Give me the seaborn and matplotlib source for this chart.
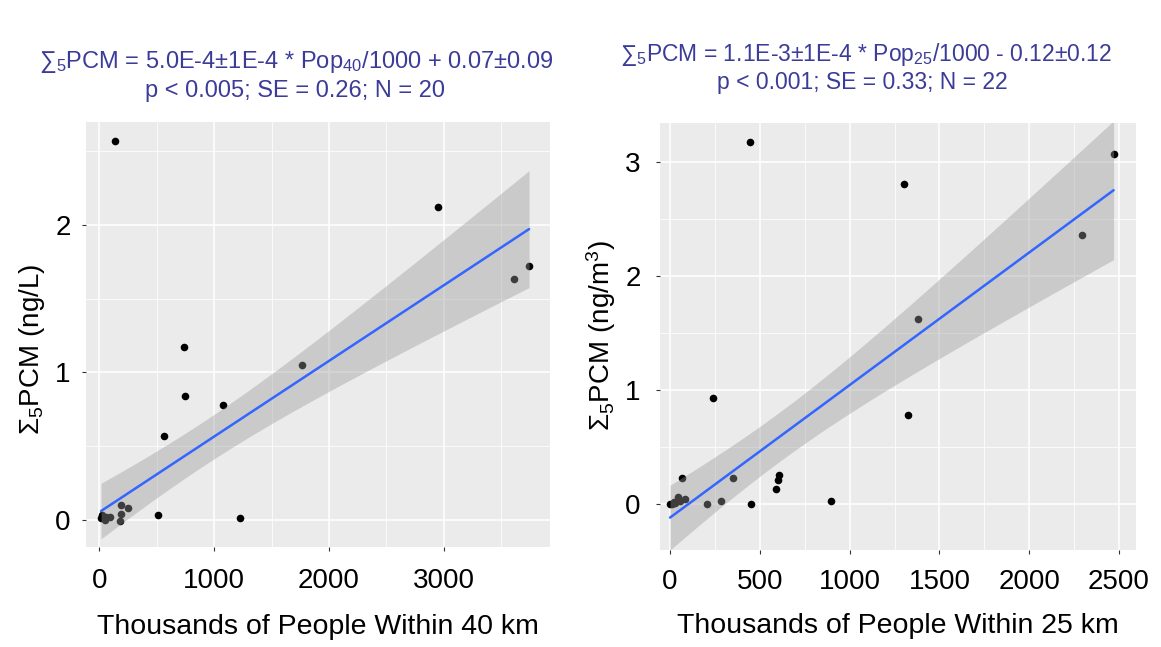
import matplotlib.pyplot as plt
import numpy as np
import pandas as pd
import seaborn as sns
from matplotlib.ticker import MultipleLocator

# left panel: water samples vs population within 40 km (thousands)
pop_40km = [136, 2948, 3744, 3613, 741, 1763, 746, 1075, 563, 253,
            186, 186, 177, 508, 1223, 15, 30, 60, 90, 20, 45]
pcm_water = [2.57, 2.12, 1.72, 1.63, 1.17, 1.05, 0.84, 0.78, 0.57, 0.08,
             0.10, 0.04, -0.01, 0.03, 0.01, 0.01, 0.02, 0.02, 0.02, 0.03, 0.00]
# the high outlier is shown but left out of the fit (N = 20)
water_in_fit = [False] + [True] * 20

# right panel: air samples vs population within 25 km (thousands)
pop_25km = [446, 2470, 1304, 2292, 1382, 238, 1326, 65, 353, 609, 600,
            589, 897, 284, 451, 208, 43, 56, 84, 0, 10, 20, 30]
pcm_air = [3.17, 3.07, 2.80, 2.36, 1.62, 0.93, 0.78, 0.23, 0.23, 0.25, 0.21,
           0.13, 0.03, 0.03, 0.00, 0.00, 0.06, 0.03, 0.04, 0.00, 0.00, 0.02,
           0.01]
air_in_fit = [False] + [True] * 22

xticks_40 = [0, 1000, 2000, 3000]
yticks_water = [0, 1, 2]
xticks_25 = [0, 500, 1000, 1500, 2000, 2500]
yticks_air = [0, 1, 2, 3]

title_water = ["∑$_5$PCM = 5.0E-4±1E-4 * Pop$_{40}$/1000 + 0.07±0.09",
               "p < 0.005; SE = 0.26; N = 20"]
title_air = ["∑$_5$PCM = 1.1E-3±1E-4 * Pop$_{25}$/1000 - 0.12±0.12",
             "p < 0.001; SE = 0.33; N = 22"]

# two-sided 95% t quantiles by residual degrees of freedom
T975 = {17: 2.1098, 18: 2.1009, 19: 2.0930, 20: 2.0860, 21: 2.0796}

sns.set_theme(style="darkgrid", rc={"axes.facecolor": "#EBEBEB",
                                    "grid.color": "white"})
plt.rcParams["font.family"] = ["Liberation Sans", "DejaVu Sans"]
plt.rcParams["mathtext.fontset"] = "custom"
plt.rcParams["mathtext.rm"] = "Liberation Sans"
plt.rcParams["mathtext.it"] = "Liberation Sans:italic"

water = pd.DataFrame({"pop": pop_40km, "pcm": pcm_water, "fit": water_in_fit})
air = pd.DataFrame({"pop": pop_25km, "pcm": pcm_air, "fit": air_in_fit})


def lm_fit(df):
    """OLS line with a 95% confidence band, like geom_smooth(method='lm')."""
    x = df["pop"].to_numpy(float)
    y = df["pcm"].to_numpy(float)
    n = len(x)
    slope, intercept = np.polyfit(x, y, 1)
    resid = y - (intercept + slope * x)
    s = np.sqrt((resid ** 2).sum() / (n - 2))
    grid = np.linspace(x.min(), x.max(), 100)
    yhat = intercept + slope * grid
    se = s * np.sqrt(1 / n + (grid - x.mean()) ** 2 / ((x - x.mean()) ** 2).sum())
    half = T975[n - 2] * se
    return pd.DataFrame({"pop": grid, "fit": yhat,
                         "lo": yhat - half, "hi": yhat + half})


fig = plt.figure(figsize=(11.61, 6.47), dpi=100)
ax1 = fig.add_axes([0.0741, 0.1546, 0.3997, 0.6569])
ax2 = fig.add_axes([0.5685, 0.1499, 0.4100, 0.6600])


def draw_panel(ax, df, xlim, ylim, xticks, yticks, xminor, xlabel, ylabel,
               xpad, ypad, xlab_y, ylab_pos):
    sns.scatterplot(data=df, x="pop", y="pcm", ax=ax, color="black", s=30,
                    linewidth=0)
    line = lm_fit(df[df["fit"]])
    # grey ribbon goes over the points, as in ggplot
    ax.fill_between(line["pop"], line["lo"], line["hi"], color="#999999",
                    alpha=0.4, linewidth=0)
    sns.lineplot(data=line, x="pop", y="fit", ax=ax, color="#3366FF", lw=1.8)

    ax.set_xlim(*xlim)
    ax.set_ylim(*ylim)
    ax.set_xticks(xticks)
    ax.set_yticks(yticks)
    ax.xaxis.set_minor_locator(MultipleLocator(xminor))
    ax.yaxis.set_minor_locator(MultipleLocator(0.5))
    ax.grid(which="major", color="white", lw=1.1)
    ax.grid(which="minor", color="white", lw=0.55)
    ax.tick_params(which="minor", length=0)
    ax.tick_params(which="major", bottom=True, left=True, length=3,
                   width=0.8, color="#333333", labelsize=20,
                   labelcolor="black")
    ax.tick_params(axis="x", pad=xpad)
    ax.tick_params(axis="y", pad=ypad)
    for spine in ax.spines.values():
        spine.set_visible(False)

    ax.set_xlabel(xlabel, fontsize=20.5, color="black", va="center")
    ax.set_ylabel(ylabel, fontsize=20, color="black", va="center")
    ax.xaxis.set_label_coords(0.5, xlab_y)
    ax.yaxis.set_label_coords(*ylab_pos)


draw_panel(ax1, water, (-116, 3927), (-0.186, 2.698), xticks_40, yticks_water,
           500, "Thousands of People Within 40 km", "Σ$_5$PCM (ng/L)",
           12, 8, -0.188, (-0.117, 0.464))
draw_panel(ax2, air, (-56, 2595), (-0.404, 3.339), xticks_25, yticks_air,
           250, "Thousands of People Within 25 km", "Σ$_5$PCM (ng/m$^3$)",
           11, 11, -0.178, (-0.124, 0.503))

title_color = "#3b3b99"
fig.text(296 / 1161, 1 - 62 / 647, title_water[0], ha="center", va="center",
         color=title_color, fontsize=17)
fig.text(295 / 1161, 1 - 91 / 647, title_water[1], ha="center", va="center",
         color=title_color, fontsize=17)
fig.text(866 / 1161, 1 - 55 / 647, title_air[0], ha="center", va="center",
         color=title_color, fontsize=16.5)
fig.text(862 / 1161, 1 - 83 / 647, title_air[1], ha="center", va="center",
         color=title_color, fontsize=16.5)

plt.savefig("out.png", dpi=100)
plt.close()
